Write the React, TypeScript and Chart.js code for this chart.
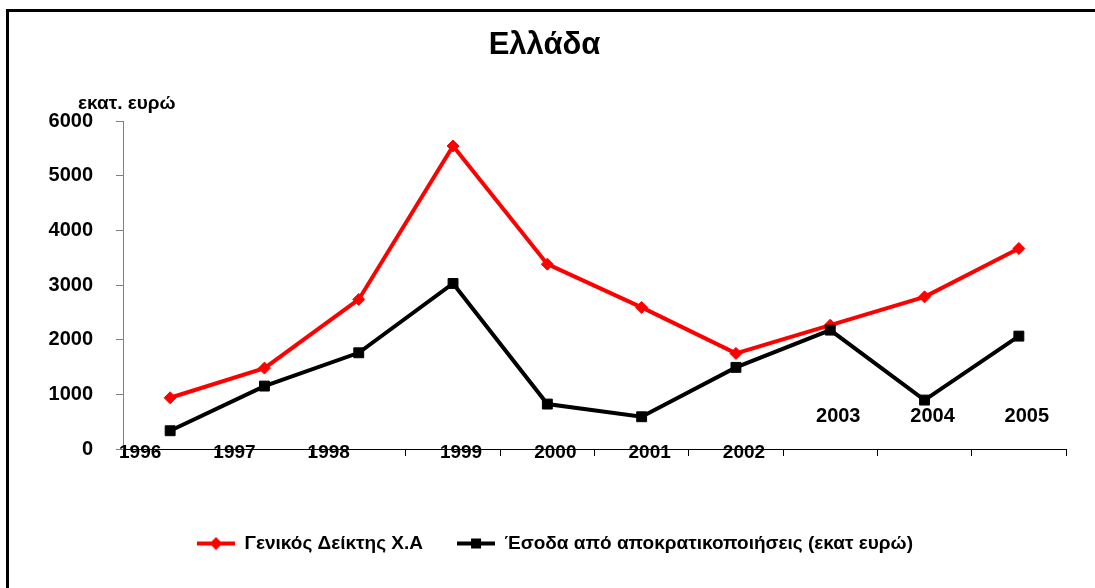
import React, { useEffect, useRef } from 'react';
import { Chart, registerables } from 'chart.js';

Chart.register(...registerables);

// ---- data ----
const years = ['1996', '1997', '1998', '1999', '2000', '2001', '2002', '2003', '2004', '2005'];
const generalIndex = [937, 1480, 2736, 5543, 3381, 2590, 1749, 2266, 2783, 3668];
const privatizationRevenue = [334, 1151, 1760, 3028, 822, 590, 1493, 2175, 895, 2065];
const seriesNames = ['Γενικός Δείκτης Χ.Α', 'Έσοδα από αποκρατικοποιήσεις (εκατ ευρώ)'];
const chartTitle = 'Ελλάδα';
const unitLabel = 'εκατ. ευρώ';
const yMin = 0;
const yMax = 6000;
const yStep = 1000;

const FONT = "'Liberation Sans', Arial, Helvetica, sans-serif";

function legendSwatch(color: string, shape: 'diamond' | 'square') {
  const c = document.createElement('canvas');
  c.width = 38;
  c.height = 14;
  const g = c.getContext('2d')!;
  g.strokeStyle = color;
  g.fillStyle = color;
  g.lineWidth = 4;
  g.beginPath();
  g.moveTo(0, 7);
  g.lineTo(38, 7);
  g.stroke();
  if (shape === 'diamond') {
    g.beginPath();
    g.moveTo(19, 0.5);
    g.lineTo(25.5, 7);
    g.lineTo(19, 13.5);
    g.lineTo(12.5, 7);
    g.closePath();
    g.fill();
  } else {
    g.fillRect(14, 2, 10, 10);
  }
  return c;
}

const textPlugin = {
  id: 'extraText',
  afterDraw(chart: any) {
    const { ctx, chartArea, scales } = chart;
    const x = scales.x;
    ctx.save();
    ctx.fillStyle = '#000';
    ctx.textAlign = 'center';
    ctx.textBaseline = 'middle';
    years.forEach((yr, i) => {
      const px = x.getPixelForValue(i);
      const dx = i < 3 ? -30 : 8;
      const below = i < 7;
      ctx.font = `bold ${below ? 19 : 20}px ${FONT}`;
      const y = below ? chartArea.bottom + 4 : chartArea.bottom - 33;
      ctx.fillText(yr, px + dx, y);
    });
    ctx.font = `bold 31px ${FONT}`;
    ctx.fillText(chartTitle, chart.width / 2 - 3, 45);
    ctx.font = `bold 19px ${FONT}`;
    ctx.textAlign = 'left';
    ctx.textBaseline = 'alphabetic';
    ctx.fillText(unitLabel, chartArea.left - 45, chartArea.top - 12);
    ctx.restore();
  },
};

export default function App() {
  const ref = useRef<HTMLCanvasElement>(null);

  useEffect(() => {
    if (!ref.current) return;
    const swatches = [legendSwatch('#FF0000', 'diamond'), legendSwatch('#000000', 'square')];
    const chart = new Chart(ref.current, {
      type: 'line',
      data: {
        labels: years,
        datasets: [
          {
            label: seriesNames[0],
            data: generalIndex,
            borderColor: '#FF0000',
            backgroundColor: '#FF0000',
            borderWidth: 4,
            pointStyle: 'rectRot',
            pointRadius: 6,
            pointBorderWidth: 1,
            pointBackgroundColor: '#FF0000',
            pointBorderColor: '#FF0000',
            tension: 0,
            order: 2,
          },
          {
            label: seriesNames[1],
            data: privatizationRevenue,
            borderColor: '#000000',
            backgroundColor: '#000000',
            borderWidth: 4,
            pointStyle: 'rect',
            pointRadius: 7,
            pointBorderWidth: 1,
            pointBackgroundColor: '#000000',
            pointBorderColor: '#000000',
            tension: 0,
            order: 1,
          },
        ],
      },
      options: {
        responsive: false,
        animation: false,
        layout: { padding: { top: 121, left: 44, right: 29, bottom: 25 } },
        plugins: {
          title: { display: false },
          tooltip: { enabled: false },
          legend: {
            display: true,
            position: 'bottom',
            labels: {
              color: '#000',
              font: { family: FONT, size: 19, weight: 'bold' },
              usePointStyle: true,
              pointStyleWidth: 38,
              padding: 34,
              sort: (a: any, b: any) => a.datasetIndex - b.datasetIndex,
              generateLabels: (chart: any) => {
                const items = Chart.defaults.plugins.legend.labels.generateLabels(chart);
                return items.map((it: any) => ({
                  ...it,
                  pointStyle: swatches[it.datasetIndex],
                }));
              },
            },
          },
        },
        scales: {
          x: {
            type: 'category',
            offset: true,
            afterFit: (s: any) => {
              s.height = 51;
            },
            grid: {
              display: true,
              drawOnChartArea: false,
              drawTicks: true,
              tickLength: 7,
              offset: true,
              color: '#000',
            },
            border: { display: true, color: '#000', width: 1 },
            ticks: { display: false },
          },
          y: {
            min: yMin,
            max: yMax,
            afterFit: (s: any) => {
              s.width = 79;
            },
            ticks: {
              stepSize: yStep,
              color: '#000',
              padding: 23,
              font: { family: FONT, size: 20, weight: 'bold' },
              callback: (v: any) => String(v),
            },
            grid: {
              display: true,
              drawOnChartArea: false,
              drawTicks: true,
              tickLength: 7,
              color: '#808080',
            },
            border: { display: true, color: '#808080', width: 1 },
          },
        },
      },
      plugins: [textPlugin],
    });
    return () => chart.destroy();
  }, []);

  return (
    <div style={{ position: 'fixed', left: 0, top: 0, width: 1095, height: 588, overflow: 'hidden', background: '#fff' }}>
      <div
        style={{
          position: 'absolute',
          left: 6,
          top: 9,
          width: 1200,
          height: 700,
          border: '3px solid #000',
          boxSizing: 'border-box',
        }}
      />
      <canvas ref={ref} width={1095} height={588} style={{ position: 'absolute', left: 0, top: 0, width: 1095, height: 588 }} />
    </div>
  );
}
